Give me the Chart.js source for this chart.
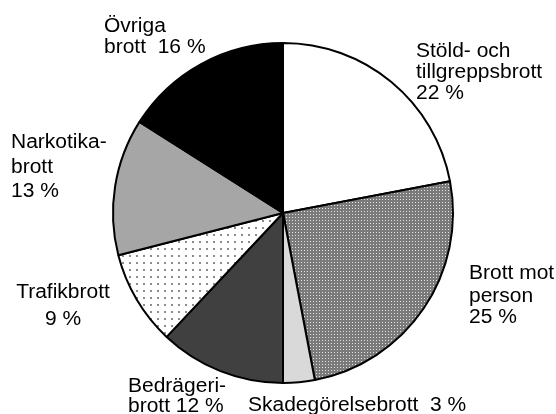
<!DOCTYPE html>
<html>
<head>
<meta charset="utf-8">
<script src="https://cdn.jsdelivr.net/npm/chart.js@4"></script>
<style>
  html, body { margin: 0; padding: 0; background: #fff; }
</style>
</head>
<body>
<canvas id="chart" width="556" height="414"></canvas>
<script>
// data
const categories = [
    "Stöld- och tillgreppsbrott",
    "Brott mot person",
    "Skadegörelsebrott",
    "Bedrägeribrott",
    "Trafikbrott",
    "Narkotikabrott",
    "Övriga brott"
];
const shares = [22, 25, 3, 12, 9, 13, 16];

// label text, {v} is replaced by the share
const labelLines = [
    ["Stöld- och", "tillgreppsbrott", "{v} %"],
    ["Brott mot", "person", "{v} %"],
    ["Skadegörelsebrott  {v} %"],
    ["Bedrägeri-", "brott {v} %"],
    ["Trafikbrott", "{v} %"],
    ["Narkotika-", "brott", "{v} %"],
    ["Övriga", "brott  {v} %"]
];

// label placement relative to the pie centre: [dx, dy of each baseline], align
const labelSpots = [
    { dx: 133, dy: [-156, -135, -114], align: "left" },
    { dx: 186, dy: [66, 89, 110], align: "left" },
    { dx: -35, dy: [198], align: "left" },
    { dx: -155, dy: [178.5, 198.5], align: "left" },
    { dx: -220, dy: [85, 112], align: "center" },
    { dx: -272, dy: [-65, -40.5, -16.3], align: "left" },
    { dx: -179, dy: [-180.7, -159.7], align: "left" }
];

function makePattern(size, bg, draw) {
    const c = document.createElement("canvas");
    c.width = size;
    c.height = size;
    const g = c.getContext("2d");
    g.fillStyle = bg;
    g.fillRect(0, 0, size, size);
    draw(g);
    return g.createPattern(c, "repeat");
}

const personPattern = makePattern(3, "#7a7a7a", g => {
    g.fillStyle = "#e4e4e4";
    g.fillRect(1, 1, 1, 1);
});

const trafficPattern = makePattern(7, "#ffffff", g => {
    g.fillStyle = "#8c8c8c";
    g.fillRect(3, 3, 2, 2);
});

const fills = [
    "#ffffff",
    personPattern,
    "#d9d9d9",
    "#404040",
    trafficPattern,
    "#a6a6a6",
    "#000000"
];

const labelPlugin = {
    id: "sliceLabels",
    afterDraw(chart) {
        const ctx = chart.ctx;
        const arc = chart.getDatasetMeta(0).data[0];
        const cx = arc.x;
        const cy = arc.y;
        ctx.save();
        ctx.fillStyle = "#000";
        ctx.font = "20px 'Liberation Sans', Arial, sans-serif";
        ctx.textBaseline = "alphabetic";
        labelLines.forEach((lines, i) => {
            const spot = labelSpots[i];
            lines.forEach((line, j) => {
                const text = line.replace("{v}", shares[i]);
                ctx.save();
                ctx.translate(cx + spot.dx, cy + spot.dy[j]);
                ctx.scale(1.05, 1);
                ctx.textAlign = spot.align;
                ctx.fillText(text, 0, 0);
                ctx.restore();
            });
        });
        ctx.restore();
    }
};

new Chart(document.getElementById("chart"), {
    type: "pie",
    data: {
        labels: categories,
        datasets: [{
            data: shares,
            backgroundColor: fills,
            borderColor: "#000",
            borderWidth: 2
        }]
    },
    options: {
        responsive: false,
        animation: false,
        events: [],
        layout: {
            padding: { left: 112, right: 102, top: 42, bottom: 30 }
        },
        plugins: {
            legend: { display: false },
            tooltip: { enabled: false }
        }
    },
    plugins: [labelPlugin]
});
</script>
</body>
</html>
